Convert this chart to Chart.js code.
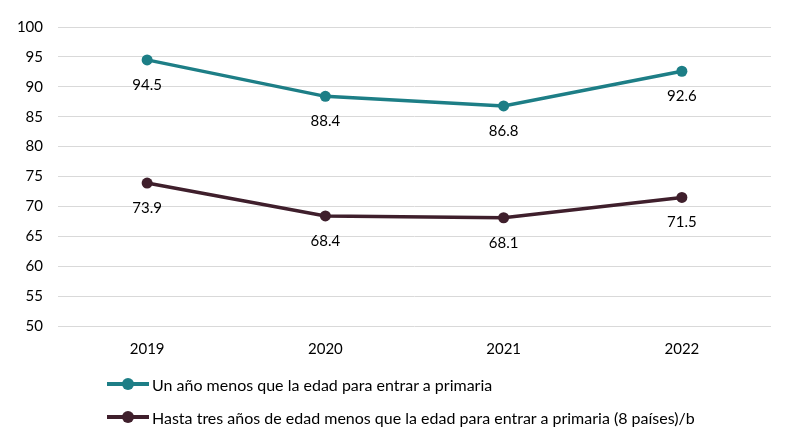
<!DOCTYPE html>
<html>
<head>
<meta charset="utf-8">
<script src="https://cdn.jsdelivr.net/npm/chart.js@4"></script>
<style>
  body { margin: 0; background: #fff; }
  #wrap { position: relative; width: 800px; height: 433px; }
  #legend { position: absolute; left: 107px; top: 373px; font-family: Lato, sans-serif; font-size: 16px; color: #000; }
  .item { display: flex; align-items: center; height: 22px; margin-bottom: 11px; }
  .swatch { position: relative; width: 42px; height: 12px; margin-right: 3px; }
  .swatch .ln { position: absolute; left: 0; right: 0; top: 4px; height: 4px; }
  .swatch .dot { position: absolute; left: 15px; top: 0; width: 12px; height: 12px; border-radius: 50%; }
</style>
</head>
<body>
<div id="wrap">
  <canvas id="chart" width="800" height="433"></canvas>
  <div id="legend"></div>
</div>
<script>
const years = ['2019', '2020', '2021', '2022'];
const unAno = [94.5, 88.4, 86.8, 92.6];
const hastaTres = [73.9, 68.4, 68.1, 71.5];
const seriesNames = [
    'Un año menos que la edad para entrar a primaria',
    'Hasta tres años de edad menos que la edad para entrar a primaria (8 países)/b'
];
const colors = ['#1D7E86', '#3F1F2C'];

// numbers under each point
const valueLabels = {
    id: 'valueLabels',
    afterDatasetsDraw(chart) {
        const ctx = chart.ctx;
        ctx.save();
        ctx.font = '15px Lato, sans-serif';
        ctx.fillStyle = '#000';
        ctx.textAlign = 'center';
        ctx.textBaseline = 'middle';
        chart.data.datasets.forEach(function (ds, i) {
            chart.getDatasetMeta(i).data.forEach(function (pt, j) {
                ctx.fillText(ds.data[j].toFixed(1), pt.x, pt.y + 25);
            });
        });
        ctx.restore();
    }
};

window.onload = function () {
    const ctx = document.getElementById('chart').getContext('2d');
    const chart = new Chart(ctx, {
        type: 'line',
        data: {
            labels: years,
            datasets: [
                {
                    label: seriesNames[0],
                    data: unAno,
                    borderColor: colors[0],
                    backgroundColor: colors[0],
                    borderWidth: 3.5,
                    pointRadius: 5.5,
                    pointBorderWidth: 0,
                    tension: 0
                },
                {
                    label: seriesNames[1],
                    data: hastaTres,
                    borderColor: colors[1],
                    backgroundColor: colors[1],
                    borderWidth: 3.5,
                    pointRadius: 5.5,
                    pointBorderWidth: 0,
                    tension: 0
                }
            ]
        },
        options: {
            responsive: false,
            animation: false,
            layout: { padding: { top: 27, right: 29, left: 0, bottom: 0 } },
            plugins: {
                legend: { display: false },
                tooltip: { enabled: false }
            },
            scales: {
                x: {
                    offset: true,
                    grid: { display: false, drawTicks: false },
                    border: { display: false },
                    ticks: { color: '#000', font: { family: 'Lato', size: 15 }, padding: 14 },
                    afterFit: function (s) { s.height = 107; }
                },
                y: {
                    min: 50,
                    max: 100,
                    ticks: { stepSize: 5, color: '#000', font: { family: 'Lato', size: 15 }, padding: 15 },
                    grid: { color: '#d9d9d9', lineWidth: 1, drawTicks: false },
                    border: { display: false },
                    afterFit: function (s) { s.width = 58; }
                }
            }
        },
        plugins: [valueLabels]
    });

    const legend = document.getElementById('legend');
    chart.data.datasets.forEach(function (ds) {
        const item = document.createElement('div');
        item.className = 'item';
        item.innerHTML = '<span class="swatch"><span class="ln" style="background:' + ds.borderColor +
            '"></span><span class="dot" style="background:' + ds.borderColor + '"></span></span><span></span>';
        item.lastChild.textContent = ds.label;
        legend.appendChild(item);
    });
};
</script>
</body>
</html>
